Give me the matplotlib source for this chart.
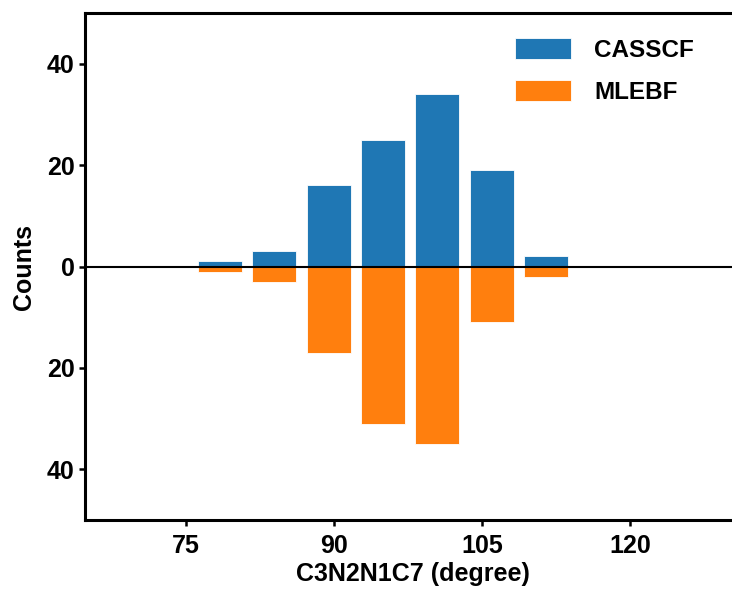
import numpy as np
import matplotlib
matplotlib.use("Agg")
import matplotlib.pyplot as plt

plt.rcParams['font.family'] = ['Liberation Sans', 'DejaVu Sans']
plt.rcParams['font.weight'] = 'bold'

# dihedral angle bins (degree) and counts per method
bin_centers = [78.45, 83.95, 89.45, 94.95, 100.45, 105.95, 111.45]
bar_width = 4.45
casscf = [1, 3, 16, 25, 34, 19, 2]
mlebf = [1, 3, 17, 31, 35, 11, 2]

fig = plt.figure(figsize=(7.32, 5.9), dpi=100)
ax = fig.add_axes([85 / 732, 70 / 590, 655 / 732, 507 / 590])

ax.bar(bin_centers, casscf, width=bar_width, color='#1f77b4',
       edgecolor='white', linewidth=0.6, label='CASSCF')
ax.bar(bin_centers, -np.array(mlebf), width=bar_width, color='#ff7f0e',
       edgecolor='white', linewidth=0.6, label='MLEBF')
ax.axhline(0, color='black', lw=1.5)

ax.set_xlim(64.8, 131.1)
ax.set_ylim(-50, 50)
ax.set_xticks([75, 90, 105, 120])
ax.set_yticks([-40, -20, 0, 20, 40])
ax.set_yticklabels(['40', '20', '0', '20', '40'])

ax.tick_params(labelsize=18, width=1.8, length=4)
ax.tick_params(axis='x', pad=6)
for lab in ax.get_xticklabels() + ax.get_yticklabels():
    lab.set_fontweight('bold')
for sp in ax.spines.values():
    sp.set_linewidth(2.2)

ax.set_xlabel('C3N2N1C7 (degree)', fontsize=18, fontweight='bold', labelpad=3)
ax.set_ylabel('Counts', fontsize=18, fontweight='bold', labelpad=8)

ax.legend(loc='upper right', bbox_to_anchor=(0.956, 0.984), frameon=False,
          handlelength=2.3, handleheight=0.95, borderaxespad=0.3,
          handletextpad=0.95, labelspacing=0.75,
          prop={'size': 17.5, 'weight': 'bold'})

fig.savefig('out.png', dpi=100)
